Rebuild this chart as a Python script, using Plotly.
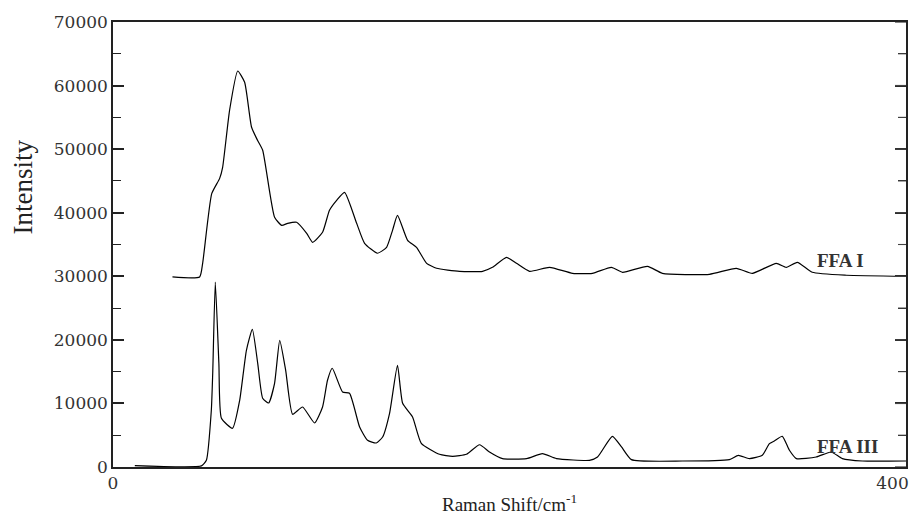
import plotly.graph_objects as go

# ---- data ----
ffa1_x = [30, 43.7, 45.2, 49.8, 53.8, 55.3, 58.8, 62.9, 66.4, 69.9, 72.9, 75.5, 81.5, 85.1,
          88.1, 92.6, 97.7, 100.7, 105.7, 109.2, 112.8, 116.8, 122.9, 126.9, 133.4, 138.0,
          141.0, 143.5, 148.6, 153.1, 158.2, 163.2, 174.8, 186.4, 191.4, 198.5, 203.5, 210.1,
          220.2, 231.8, 241.8, 251.4, 257.0, 269.6, 277.1, 300.8, 314.4, 322.5, 334.6, 339.6,
          345.2, 352.7, 369.9, 400]
ffa1_y = [29900, 29900, 32000, 43000, 45400, 47140, 56110, 62290, 60520, 53440, 51390, 49820,
          39280, 38020, 38330, 38490, 36760, 35350, 36920, 40380, 41950, 43210, 38330, 35190,
          33620, 34560, 37230, 39590, 35660, 34560, 32040, 31260, 30780, 30780, 31410, 32990,
          32040, 30780, 31410, 30470, 30470, 31410, 30630, 31570, 30470, 30310, 31260, 30470,
          32040, 31410, 32200, 30630, 30160, 30000]

ffa3_x = [11, 44.6, 47.1, 49.6, 50.3, 51.6, 53.4, 54.7, 60.3, 63.9, 67.3, 70.3, 73.0, 75.5,
          78.5, 81.5, 84.1, 87.1, 90.6, 95.6, 101.7, 105.7, 108.2, 110.6, 115.8, 119.3, 124.4,
          128.4, 132.8, 136.0, 139.5, 143.5, 146.1, 151.1, 155.5, 164.7, 171.3, 178.3, 184.9,
          189.9, 196.5, 208.6, 216.6, 223.7, 240.3, 244.4, 251.9, 256.5, 261.5, 287.2, 310.9,
          315.4, 321.0, 327.5, 331.1, 333.6, 337.6, 341.2, 344.7, 354.7, 362.3, 367.9, 378.0, 400]
ffa3_y = [220, 180, 1050, 8920, 14740, 29100, 16310, 7660, 6090, 10490, 18360, 21660, 16310,
          10810, 10070, 13170, 19930, 15210, 8290, 9440, 6920, 9440, 13640, 15530, 11800, 11590,
          6290, 4200, 3780, 4720, 8450, 16000, 10020, 7870, 3730, 2000, 1680, 2000, 3500, 2360,
          1320, 1320, 2110, 1320, 1050, 1570, 4830, 3150, 1160, 940, 1160, 1840, 1320, 1840,
          3680, 4090, 4830, 2630, 1320, 1570, 2360, 1320, 940, 940]

series_names = ["FFA I", "FFA III"]
label_x = [367, 370.5]
label_y = [32500, 3300]

y_ticks = [0, 10000, 20000, 30000, 40000, 50000, 60000, 70000]
y_minor_ticks = [5000, 15000, 25000, 35000, 45000, 55000, 65000]
x_ticks = [0, 400]
# non-breaking spaces nudge the end label inside the frame, as in the reference
x_ticktext = ["0", "400" + "\u00a0" * 5]
x_range = [0, 400]
y_range = [0, 70000]

W, H = 912, 515
ML, MR, MT, MB = 113, 6, 22, 48
plot_w = W - ML - MR

fig = go.Figure()
for xs, ys, name in [(ffa1_x, ffa1_y, series_names[0]), (ffa3_x, ffa3_y, series_names[1])]:
    fig.add_trace(go.Scatter(x=xs, y=ys, mode="lines", name=name,
                             line=dict(color="black", width=1.2, shape="spline", smoothing=0.5),
                             showlegend=False))

for name, lx, ly in zip(series_names, label_x, label_y):
    fig.add_annotation(x=lx, y=ly, xref="x", yref="y", text="<b>" + name + "</b>",
                       showarrow=False,
                       font=dict(family="Liberation Serif", size=19, color="#333"),
                       xanchor="center", yanchor="middle")

fig.add_annotation(x=-0.113, y=0.629, xref="paper", yref="paper", text="Intensity",
                   textangle=-90, showarrow=False,
                   font=dict(family="Liberation Serif", size=27, color="#222"),
                   xanchor="center", yanchor="middle")

# tick marks on the right-hand frame (mirrored y ticks), placed through the y scale
for vals, ln, wd in [(y_ticks, 11, 1.3), (y_minor_ticks, 8, 1.1)]:
    for v in vals:
        fig.add_shape(type="line", xref="paper", yref="y", x0=1 - ln / plot_w, x1=1,
                      y0=v, y1=v, line=dict(color="#444", width=wd))

tickfont = dict(family="DejaVu Serif", size=17, color="#333")

fig.update_layout(
    width=W, height=H,
    margin=dict(l=ML, r=MR, t=MT, b=MB, autoexpand=False),
    paper_bgcolor="white", plot_bgcolor="white",
    xaxis=dict(range=x_range, tickvals=x_ticks, ticktext=x_ticktext, ticks="",
               showgrid=False, zeroline=False, ticklabeloverflow="allow",
               showline=True, linewidth=1.5, linecolor="#222", mirror=True, automargin=False,
               tickfont=tickfont,
               title=dict(text="Raman Shift/cm<sup>-1</sup>", standoff=14,
                          font=dict(family="Liberation Serif", size=19, color="#222"))),
    yaxis=dict(range=y_range, tickvals=y_ticks, tickformat="d", ticks="inside",
               ticklen=11, tickwidth=1.5, tickcolor="#222", showgrid=False, zeroline=False,
               showline=True, linewidth=1.5, linecolor="#222", mirror="ticks", tickfont=tickfont,
               automargin=False,
               minor=dict(ticks="inside", ticklen=8, tickwidth=1.2, tickcolor="#222",
                          dtick=5000, showgrid=False)),
)

fig.write_html("out.html")
